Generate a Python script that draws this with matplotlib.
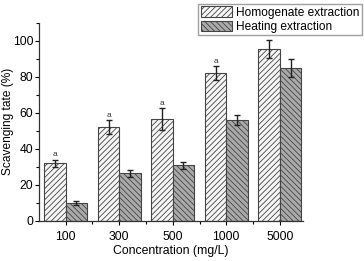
import matplotlib
matplotlib.use("Agg")
import matplotlib.pyplot as plt
import numpy as np
from matplotlib.ticker import MultipleLocator, FixedLocator

categories = ["100", "300", "500", "1000", "5000"]
homog = [32, 52, 56.5, 82, 95.5]
homog_err = [2, 4, 6, 4, 5]
heat = [10, 26.5, 31, 56, 85]
heat_err = [1, 2, 2, 3, 5]
sig = ["a", "a", "a", "a", ""]

plt.rcParams['font.family'] = ['Liberation Sans', 'DejaVu Sans']
plt.rcParams['hatch.linewidth'] = 0.6
plt.rcParams['hatch.color'] = '#555555'

fig = plt.figure(figsize=(3.64, 2.61), dpi=100)
ax = fig.add_axes([0.1085, 0.1533, 0.7235, 0.7597])

x = np.arange(len(categories))
w = 0.4
b1 = ax.bar(x - w/2, homog, w, color='#f6f6f6', edgecolor='#444444', linewidth=0.8,
            hatch='//////', label='Homogenate extraction')
b2 = ax.bar(x + w/2, heat, w, color='#aaaaaa', edgecolor='#444444', linewidth=0.8,
            hatch='\\\\\\\\\\\\', label='Heating extraction')
ax.errorbar(x - w/2, homog, yerr=homog_err, fmt='none', ecolor='#222222', elinewidth=1, capsize=2.5, capthick=1)
ax.errorbar(x + w/2, heat, yerr=heat_err, fmt='none', ecolor='#222222', elinewidth=1, capsize=2.5, capthick=1)
for xi, v, e, s in zip(x - w/2, homog, homog_err, sig):
    if s:
        ax.text(xi, v + e + 0.8, s, ha='center', va='bottom', fontsize=6, color='#333333')

ax.set_xlim(-0.49, 4.43)
ax.set_ylim(0, 110)
ax.set_xticks(x)
ax.set_xticklabels(categories, fontsize=8.8)
ax.xaxis.set_minor_locator(FixedLocator(x[:-1] + 0.5))
ax.yaxis.set_major_locator(MultipleLocator(20))
ax.yaxis.set_minor_locator(MultipleLocator(10))
ax.tick_params(axis='y', labelsize=8.8, direction='out', length=3, width=0.8, pad=1.5)
ax.tick_params(axis='x', direction='out', length=3, width=0.8, pad=4)
ax.tick_params(which='minor', length=2, width=0.8)
ax.spines['top'].set_visible(False)
ax.spines['right'].set_visible(False)
for s in ['left', 'bottom']:
    ax.spines[s].set_linewidth(0.9)
    ax.spines[s].set_color('#333333')
ax.set_xlabel('Concentration (mg/L)', fontsize=8.8, labelpad=2)
ax.set_ylabel('Scavenging tate (%)', fontsize=8.6, labelpad=1)
ax.yaxis.set_label_coords(-0.098, 0.5)

fig.legend(handles=[b1, b2], loc='upper right', bbox_to_anchor=(0.995, 0.985),
           fontsize=8.6, frameon=True, fancybox=False, edgecolor='#888888',
           handlelength=2.6, handleheight=1.0, handletextpad=0.4, borderpad=0.2,
           labelspacing=0.15, borderaxespad=0)

fig.savefig('out.png', dpi=100)
